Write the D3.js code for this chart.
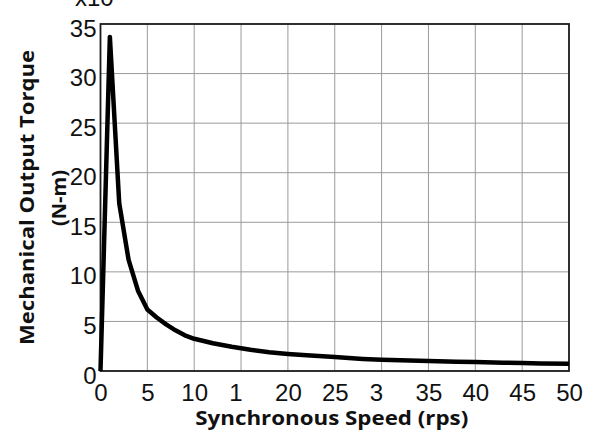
<!DOCTYPE html>
<html>
<head>
<meta charset="utf-8">
<script src="https://cdn.jsdelivr.net/npm/d3@7"></script>
<style>
  body { margin: 0; background: #fff; }
  svg { display: block; }
</style>
</head>
<body>
<svg id="chart"></svg>
<script>
// speed (rps) and torque (x10^4 N-m)
const speed = [0, 1, 2, 3, 4, 5, 6, 7, 8, 9, 10, 12, 14, 16, 18, 20, 22, 25, 28, 30, 33, 35, 38, 40, 43, 45, 47, 50];
const torque = [0, 33.7, 16.9, 11.2, 8.1, 6.2, 5.4, 4.7, 4.1, 3.6, 3.25, 2.8, 2.45, 2.15, 1.9, 1.72, 1.58, 1.4, 1.22, 1.13, 1.05, 1.0, 0.94, 0.9, 0.84, 0.8, 0.76, 0.72];

const xTicks = [0, 5, 10, 15, 20, 25, 30, 35, 40, 45, 50];
const xTickLabels = ["0", "5", "10", "1", "20", "25", "3", "35", "40", "45", "50"];
const yTicks = [0, 5, 10, 15, 20, 25, 30, 35];

const width = 595, height = 437;
const margin = { top: 24, right: 26, bottom: 66, left: 100.5 };

const svg = d3.select("#chart").attr("width", width).attr("height", height);

const x = d3.scaleLinear().domain([0, 50]).range([margin.left, width - margin.right]);
const y = d3.scaleLinear().domain([0, 35]).range([height - margin.bottom, margin.top]);

const g = svg.append("g");

// grid
g.selectAll(".vgrid")
  .data(xTicks.slice(1, -1))
  .enter()
  .append("line")
  .attr("x1", (d) => x(d)).attr("x2", (d) => x(d))
  .attr("y1", y(0)).attr("y2", y(35))
  .style("stroke", "#9a9a9a")
  .style("stroke-width", 1);

g.selectAll(".hgrid")
  .data(yTicks.slice(1, -1))
  .enter()
  .append("line")
  .attr("x1", x(0)).attr("x2", x(50))
  .attr("y1", (d) => y(d)).attr("y2", (d) => y(d))
  .style("stroke", "#9a9a9a")
  .style("stroke-width", 1);

// axes (labels only, frame drawn below)
const xAxis = d3.axisBottom(x)
  .tickValues(xTicks)
  .tickSize(0)
  .tickFormat((d, i) => xTickLabels[i]);

const xg = g.append("g")
  .attr("transform", `translate(0,${y(0)})`)
  .call(xAxis);
xg.select(".domain").remove();
xg.selectAll("text")
  .attr("y", 30)
  .attr("dy", 0)
  .style("font-family", "'Liberation Sans', Arial, sans-serif")
  .style("font-size", "24px")
  .style("fill", "#111")
  .attr("text-anchor", (d, i) => (xTickLabels[i].length < String(d).length ? "end" : "middle"))
  .attr("dx", (d, i) => (xTickLabels[i].length < String(d).length ? 1 : 0));

const yAxis = d3.axisLeft(y).tickValues(yTicks).tickSize(0);
const yg = g.append("g")
  .attr("transform", `translate(${x(0)},0)`)
  .call(yAxis);
yg.select(".domain").remove();
yg.selectAll("text")
  .attr("x", -4)
  .attr("dy", "0.5em")
  .style("font-family", "'Liberation Sans', Arial, sans-serif")
  .style("font-size", "24px")
  .style("fill", "#111");

// frame
g.append("rect")
  .attr("x", x(0)).attr("y", y(35))
  .attr("width", x(50) - x(0))
  .attr("height", y(0) - y(35))
  .style("fill", "none")
  .style("stroke", "#1a1a1a")
  .style("stroke-width", 1.8);

// torque curve
const line = d3.line()
  .x((d, i) => x(speed[i]))
  .y((d) => y(d));

g.append("path")
  .datum(torque)
  .attr("d", line)
  .style("fill", "none")
  .style("stroke", "#000")
  .style("stroke-width", 4.5)
  .style("stroke-linejoin", "round");

// exponent label, cut off at top edge
svg.append("text")
  .attr("x", 75)
  .attr("y", 6)
  .text("x10")
  .style("font-family", "'Liberation Sans', Arial, sans-serif")
  .style("font-size", "24px")
  .style("fill", "#111");

// axis titles
svg.append("text")
  .attr("x", (x(0) + x(50)) / 2 - 3)
  .attr("y", 425)
  .attr("text-anchor", "middle")
  .attr("textLength", 273)
  .attr("lengthAdjust", "spacingAndGlyphs")
  .text("Synchronous Speed (rps)")
  .style("font-family", "'Open Sans', sans-serif")
  .style("font-weight", "bold")
  .style("font-size", "20px")
  .style("fill", "#111");

svg.append("text")
  .attr("transform", "translate(34,197.5) rotate(-90)")
  .attr("text-anchor", "middle")
  .attr("textLength", 295)
  .attr("lengthAdjust", "spacingAndGlyphs")
  .text("Mechanical Output Torque")
  .style("font-family", "'Open Sans', sans-serif")
  .style("font-weight", "bold")
  .style("font-size", "20px")
  .style("fill", "#111");

svg.append("text")
  .attr("transform", "translate(66,198) rotate(-90)")
  .attr("text-anchor", "middle")
  .text("(N-m)")
  .style("font-family", "'Open Sans', sans-serif")
  .style("font-weight", "bold")
  .style("font-size", "20px")
  .style("fill", "#111");
</script>
</body>
</html>
